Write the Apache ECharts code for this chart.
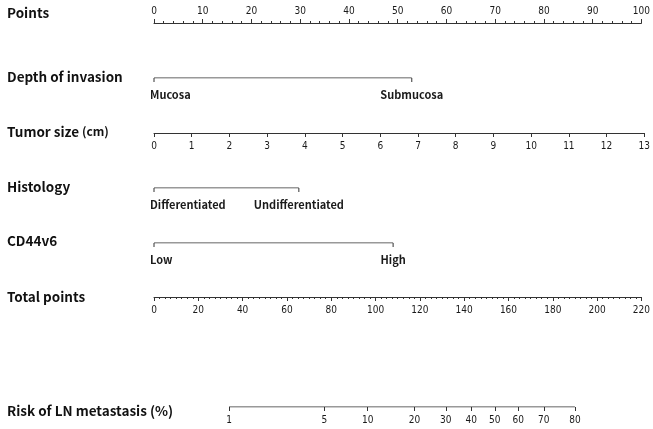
<!DOCTYPE html>
<html>
<head>
<meta charset="utf-8">
<script src="https://cdn.jsdelivr.net/npm/echarts@6/dist/echarts.min.js"></script>
<style>html,body{margin:0;padding:0;background:#fff}#c{width:653px;height:429px}</style>
</head>
<body>
<div id="c"></div>
<script>
// ---- data ----
var rowTitles = ['Points', 'Depth of invasion', 'Tumor size', 'Histology', 'CD44v6', 'Total points', 'Risk of LN metastasis (%)'];
var depthLevels = ['Mucosa', 'Submucosa'];
var depthPoints = [0, 52.5];
var histLevels = ['Differentiated', 'Undifferentiated'];
var histPoints = [0, 29.5];
var cdLevels = ['Low', 'High'];
var cdPoints = [0, 48.7];
var tumorSizeMax = 13;          // 13 cm = 100 points
var totalMax = 220;
var riskTicks = [1, 5, 10, 20, 30, 40, 50, 60, 70, 80];
// linear predictor: lp = riskA + riskB * totalPoints
var riskA = -5.892;
var riskB = 0.03859;

// ---- helpers ----
function logit(p) { return Math.log(p / (1 - p)); }
function riskToTotal(pct) { return (logit(pct / 100) - riskA) / riskB; }
function totalToRisk(t) { return 100 / (1 + Math.exp(-(riskA + riskB * t))); }
var riskTotals = riskTicks.map(riskToTotal);

var L = 154, W = 491;
var lineColor = '#333';
var tickFont = '"Liberation Sans Narrow","DejaVu Sans Condensed","Liberation Sans",sans-serif';
var titleFont = '"Noto Sans CJK KR","Noto Sans",sans-serif';

var lineYs = [22, 78, 133, 188, 243, 297, 407];

var grids = [], xAxes = [], yAxes = [], series = [];
function addGrid(y, xa) {
  var i = grids.length;
  grids.push({ left: L, width: W, top: (xa.position === 'top') ? y : y - 1, height: 1 });
  xa.gridIndex = i;
  xAxes.push(xa);
  yAxes.push({ gridIndex: i, type: 'value', min: 0, max: 1, show: false });
  return i;
}
var baseLabel = { fontFamily: tickFont, fontSize: 10, color: '#1a1a1a' };

// Points
addGrid(lineYs[0], {
  type: 'value', position: 'top', min: 0, max: 100, interval: 10,
  axisLine: { show: true, lineStyle: { color: lineColor, width: 1 } },
  axisTick: { show: true, length: 4, lineStyle: { color: lineColor } },
  minorTick: { show: true, splitNumber: 5, length: 2, lineStyle: { color: lineColor } },
  axisLabel: Object.assign({ margin: 6 }, baseLabel),
  splitLine: { show: false }
});

function catRow(y, levels, pts) {
  var gi = addGrid(y, {
    type: 'value', min: 0, max: 100, show: true,
    axisLine: { show: false }, axisTick: { show: false }, axisLabel: { show: false }, splitLine: { show: false }
  });
  series.push({
    type: 'line', xAxisIndex: gi, yAxisIndex: gi,
    symbol: 'rect', symbolSize: [1, 4], symbolOffset: [0, 2],
    itemStyle: { color: lineColor },
    lineStyle: { color: lineColor, width: 1 },
    silent: true, animation: false,
    data: pts.map(function (p, k) {
      return {
        value: [p, 0], name: levels[k],
        label: k === 0 ? { align: 'left', offset: [-4, 0] } : { align: 'center' }
      };
    }),
    label: {
      show: true, position: 'bottom', distance: 7,
      formatter: function (d) { return d.name; },
      fontFamily: titleFont, fontWeight: 'bold', fontSize: 11, color: '#1a1a1a'
    }
  });
}

catRow(lineYs[1], depthLevels, depthPoints);

// Tumor size
addGrid(lineYs[2], {
  type: 'value', min: 0, max: tumorSizeMax, interval: 1,
  axisLine: { show: true, lineStyle: { color: lineColor, width: 1 } },
  axisTick: { show: true, length: 4, lineStyle: { color: lineColor } },
  axisLabel: Object.assign({ margin: 8 }, baseLabel),
  splitLine: { show: false }
});

catRow(lineYs[3], histLevels, histPoints);
catRow(lineYs[4], cdLevels, cdPoints);

// Total points
addGrid(lineYs[5], {
  type: 'value', min: 0, max: totalMax, interval: 20,
  axisLine: { show: true, lineStyle: { color: lineColor, width: 1 } },
  axisTick: { show: true, length: 4, lineStyle: { color: lineColor } },
  minorTick: { show: true, splitNumber: 8, length: 2, lineStyle: { color: lineColor } },
  axisLabel: Object.assign({ margin: 8 }, baseLabel),
  splitLine: { show: false }
});

// Risk
var rgi = addGrid(lineYs[6], {
  type: 'value', min: 0, max: totalMax,
  axisLine: { show: false },
  axisTick: { show: true, length: 4, customValues: riskTotals, lineStyle: { color: lineColor } },
  axisLabel: Object.assign({
    margin: 8, customValues: riskTotals,
    formatter: function (v) { return String(Math.round(totalToRisk(v))); }
  }, baseLabel),
  splitLine: { show: false }
});
series.push({
  type: 'line', xAxisIndex: rgi, yAxisIndex: rgi, symbol: 'none', silent: true, animation: false,
  lineStyle: { color: lineColor, width: 1 },
  data: [[riskTotals[0], 0], [riskTotals[riskTotals.length - 1], 0]]
});

// Row titles
var titleYs = [13, 77, 132, 187, 241, 297, 411];
var graphics = rowTitles.map(function (t, i) {
  var txt = (i === 2) ? '{a|Tumor size}{b| (cm)}' : t;
  return {
    type: 'text', left: 7, top: titleYs[i] - 7,
    style: {
      text: txt, fontFamily: titleFont, fontWeight: 'bold', fontSize: 13.5, fill: '#111',
      rich: i === 2 ? {
        a: { fontFamily: titleFont, fontWeight: 'bold', fontSize: 13.5, fill: '#111' },
        b: { fontFamily: titleFont, fontWeight: 'bold', fontSize: 12, fill: '#111' }
      } : undefined
    }
  };
});

var chart = echarts.init(document.getElementById('c'), null, { renderer: 'canvas' });
chart.setOption({
  animation: false,
  grid: grids, xAxis: xAxes, yAxis: yAxes, series: series,
  graphic: graphics
});
</script>
</body>
</html>
